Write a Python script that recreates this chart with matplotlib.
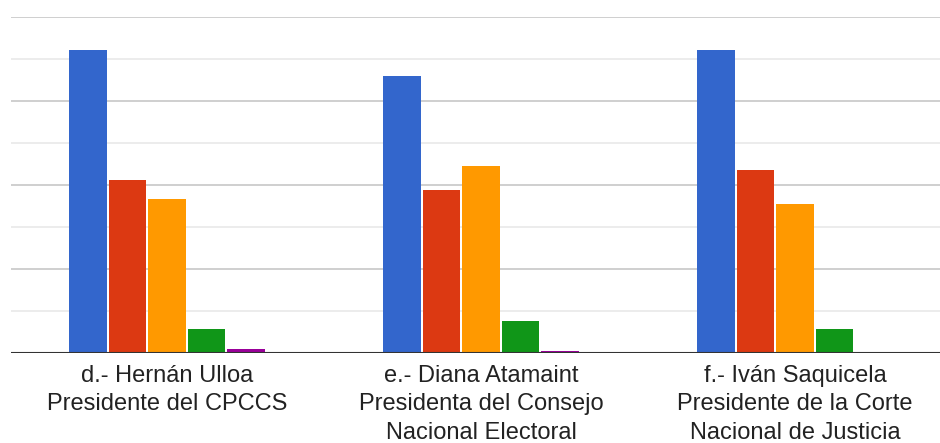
# Grouped bar chart: three officials, five answer series.

import numpy as np
import matplotlib
matplotlib.use("Agg")
import matplotlib.pyplot as plt

categories = ["d.- Hernán Ulloa\nPresidente del CPCCS",
              "e.- Diana Atamaint\nPresidenta del Consejo\nNacional Electoral",
              "f.- Iván Saquicela\nPresidente de la Corte\nNacional de Justicia"]

# values (one unit = one gridline step)
blue   = [7.21, 6.60, 7.21]
red    = [4.11, 3.87, 4.35]
orange = [3.67, 4.45, 3.54]
green  = [0.57, 0.76, 0.57]
purple = [0.09, 0.03, 0.02]

series = [blue, red, orange, green, purple]
colors = ['#3366cc', '#dc3912', '#ff9900', '#109618', '#990099']

plt.rcParams['font.family'] = ['Liberation Sans', 'DejaVu Sans']

fig = plt.figure(figsize=(9.4, 4.43), dpi=100)
ax = fig.add_axes([11/940, (443-352.5)/443, (940-11)/940, (352.5-17)/443])

x = np.arange(len(categories))
step = 0.1255
for i, (vals, c) in enumerate(zip(series, colors)):
    ax.bar(x + (i - 2) * step, vals, width=step - 0.006, color=c, zorder=3)

ax.set_xlim(-0.497, 2.462)
ax.set_ylim(0, 8)
ax.set_yticks([0, 2, 4, 6, 8])
ax.set_yticks([1, 3, 5, 7], minor=True)
ax.grid(axis='y', which='major', color='#cccccc', lw=1.3, zorder=0)
ax.grid(axis='y', which='minor', color='#ebebeb', lw=1.3, zorder=0)
ax.tick_params(axis='y', which='both', length=0, labelleft=False)
ax.axhline(0, color='#333333', lw=1.5, zorder=4)

ax.set_xticks(x)
ax.set_xticklabels(categories, fontsize=17, color='#222222', linespacing=1.38)
ax.tick_params(axis='x', length=0, pad=9)
for s in ax.spines.values():
    s.set_visible(False)

fig.savefig('out.png', dpi=100)
